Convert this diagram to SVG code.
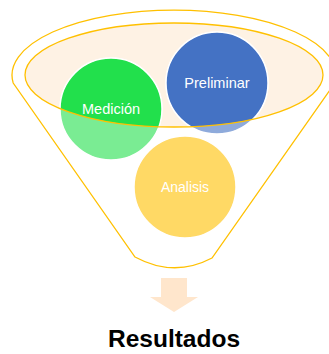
<svg xmlns="http://www.w3.org/2000/svg" width="329" height="354" viewBox="0 0 329 354">
<style>
.gold{fill:none;stroke:#FFC000;stroke-width:1.3}
.ring{stroke:#fff;stroke-width:1.5}
.lbl{font-family:"Liberation Sans",Arial,sans-serif;font-size:14.5px;fill:#fff;text-anchor:middle}
.title{font-family:"Liberation Sans",Arial,sans-serif;font-size:24.5px;font-weight:bold;fill:#000;text-anchor:middle}
</style>
<defs>
<clipPath id="inner"><ellipse cx="174" cy="75" rx="149" ry="52"/></clipPath>
</defs>
<rect width="329" height="354" fill="#fff"/>
<g id="funnel">
<path class="gold" d="M13.2,83 A162 65 0 1 1 334.8,83 L212,258 Q174,278 135,257 Z"/>
<ellipse cx="174" cy="75" rx="149" ry="52" fill="#FEF2E4"/>
</g>
<g id="medicion">
<circle class="ring" cx="111" cy="109" r="51" fill="#22E04C" opacity="0.6"/>
<circle class="ring" cx="111" cy="109" r="51" fill="#22E04C" clip-path="url(#inner)"/>
<text class="lbl" x="111" y="114">Medición</text>
</g>
<g id="preliminar">
<circle class="ring" cx="217" cy="83" r="51" fill="#4472C4" opacity="0.6"/>
<circle class="ring" cx="217" cy="83" r="51" fill="#4472C4" clip-path="url(#inner)"/>
<text class="lbl" x="217" y="88">Preliminar</text>
</g>
<g id="analisis">
<circle class="ring" cx="185" cy="187" r="51" fill="#FFC000" opacity="0.6"/>
<text class="lbl" x="185" y="192" style="font-size:14px">Analisis</text>
</g>
<g id="funnel-rim">
<ellipse class="gold" cx="174" cy="75" rx="149" ry="52"/>
</g>
<g id="connectors">
<polygon points="161,278 187,278 187,297 198,297 174,312 150,297 161,297" fill="#FFE6CC"/>
</g>
<g id="resultados">
<text class="title" x="174" y="347">Resultados</text>
</g>
</svg>
